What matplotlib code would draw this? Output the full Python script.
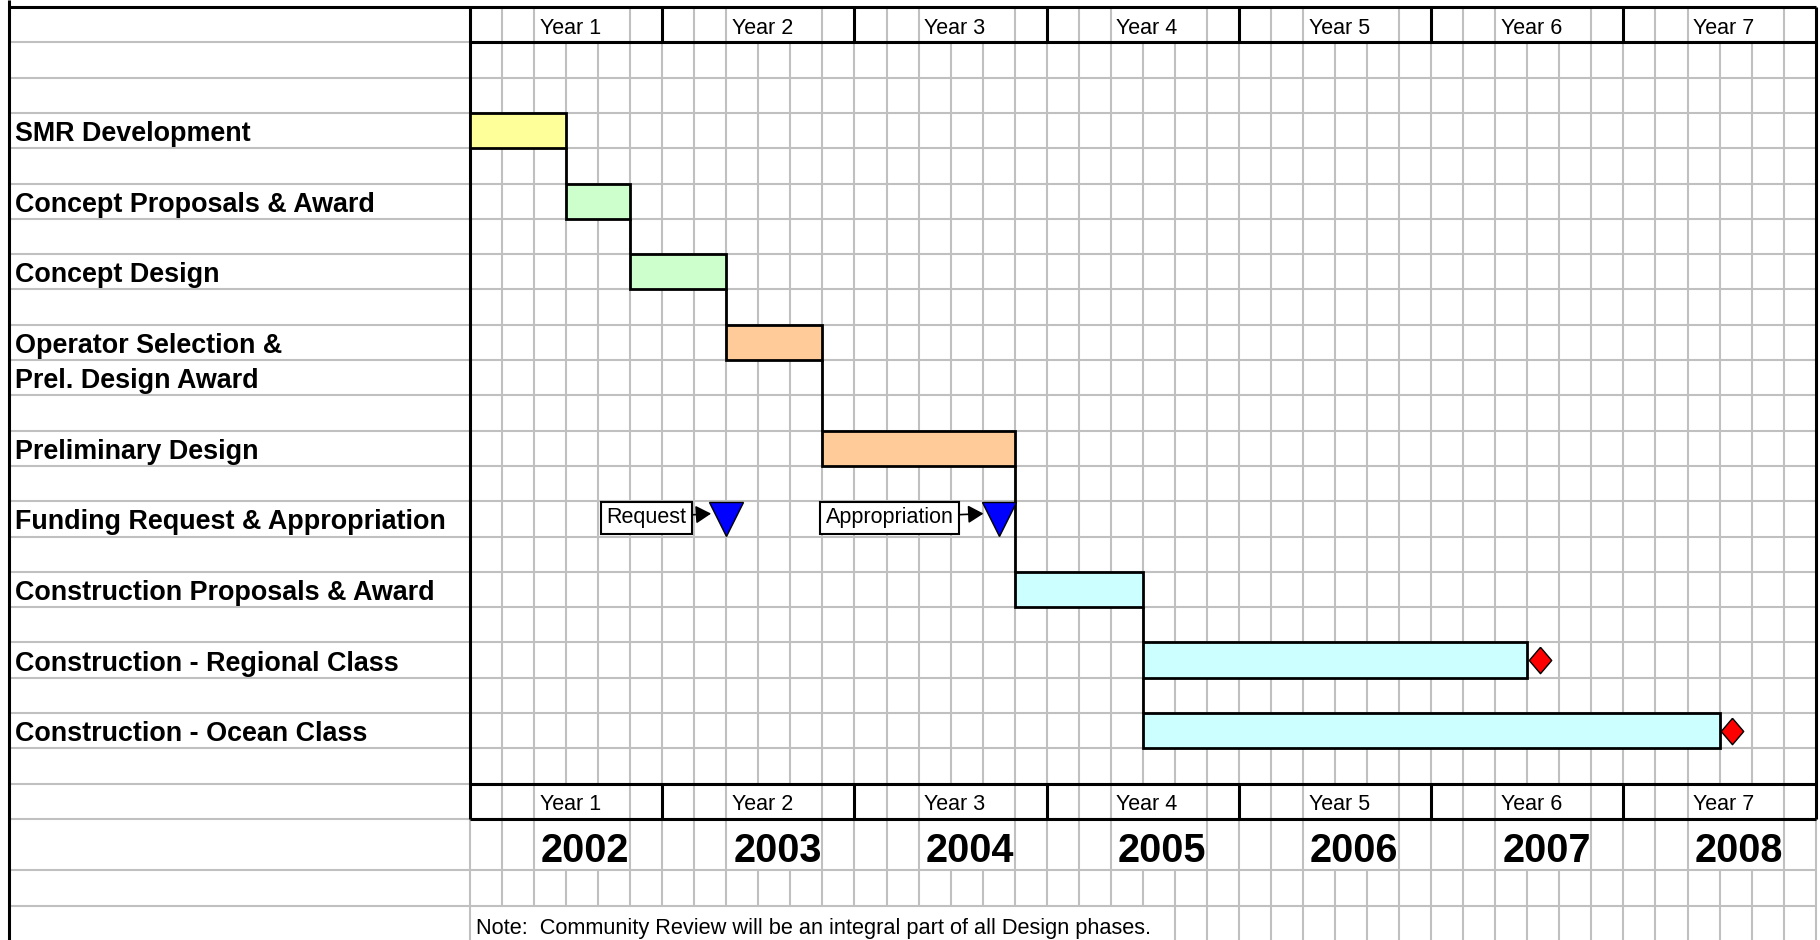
import matplotlib.pyplot as plt
import numpy as np

plt.rcParams['font.family'] = ['Liberation Sans', 'DejaVu Sans']

# task data (months from project start)
task_names = ["SMR Development", "Concept Proposals & Award", "Concept Design",
              "Operator Selection &", "Preliminary Design",
              "Construction Proposals & Award", "Construction - Regional Class",
              "Construction - Ocean Class"]
task_start = [0, 6, 10, 16, 22, 34, 42, 42]
task_end = [6, 10, 16, 22, 34, 42, 66, 78]
task_row = [3, 5, 7, 9, 12, 16, 18, 20]
task_color = ['#FFFF99', '#CCFFCC', '#CCFFCC', '#FFCC99', '#FFCC99',
              '#CCFFFF', '#CCFFFF', '#CCFFFF']

# extra label rows
extra_labels = ["Prel. Design Award", "Funding Request & Appropriation"]
extra_rows = [10, 14]

# dependency links (from task index -> to task index)
links = [(0, 1), (1, 2), (2, 3), (3, 4), (4, 5), (5, 6), (6, 7)]

# funding milestones
ms_labels = ["Request", "Appropriation"]
ms_month = [16, 33]
ms_text_x = [8.5, 22.2]
ms_row = 14

# completion diamonds on last two tasks
finish_tasks = [6, 7]

year_labels = ["Year 1", "Year 2", "Year 3", "Year 4", "Year 5", "Year 6", "Year 7"]
calendar_years = ["2002", "2003", "2004", "2005", "2006", "2007", "2008"]
note = "Note:  Community Review will be an integral part of all Design phases."

# layout
row_heights = [1] * 23 + [1.46, 1, 1]
rb = np.concatenate([[0], np.cumsum(row_heights)])
x_left_border = -28.76
x_end = 84
gray = '#C0C0C0'

fig = plt.figure(figsize=(18.2, 9.4), dpi=100)
ax = fig.add_axes([0, 0, 1, 1])
ax.set_xlim(-29.34, 84.27)
ax.set_ylim(26.43, -0.2)
ax.axis('off')

# horizontal grid
ax.hlines(rb[1:], x_left_border, x_end, color=gray, lw=1.5, zorder=1)
ax.hlines(0, x_left_border, x_end, color='k', lw=2.2, zorder=2)
ax.hlines([rb[1], rb[22], rb[23]], 0, x_end, color='k', lw=2.2, zorder=2)

# vertical grid
bottom = 26.5
for m in range(2, x_end, 2):
    for r in range(26):
        y0, y1 = rb[r], min(rb[r + 1], bottom)
        if r in (0, 22, 23) and m % 12 in (6, 8):
            continue
        if r == 25 and m <= 42:
            continue
        if r in (0, 22) and m % 12 == 0:
            ax.vlines(m, y0, y1, color='k', lw=2.2, zorder=2)
        else:
            ax.vlines(m, y0, y1, color=gray, lw=1.5, zorder=1)
for m in (0, x_end):
    ax.vlines(m, 0, rb[23], color='k', lw=2.2, zorder=2)
    ax.vlines(m, rb[23], bottom, color=gray, lw=1.5, zorder=1)
ax.vlines(x_left_border, -0.2, bottom, color='k', lw=2.2, zorder=2)

# bars
ax.barh([r + 0.5 for r in task_row], np.array(task_end) - np.array(task_start),
        left=task_start, height=1, color=task_color, edgecolor='k', lw=2, zorder=3)

# connectors
for a, b in links:
    ax.vlines(task_start[b], task_row[a] + 1, task_row[b], color='k', lw=2, zorder=3)

# labels
for name, r in zip(task_names + extra_labels, task_row + extra_rows):
    ax.text(-28.4, r + 0.6, name, fontsize=19.4, fontweight='bold', va='center', ha='left')

# funding milestones
for lab, m, tx in zip(ms_labels, ms_month, ms_text_x):
    ax.plot(m, ms_row + 0.5, marker='v', ms=24.5, mfc='#0000FF', mec='k', mew=1, zorder=5)
    ax.annotate(lab, xy=(m - 0.95, ms_row + 0.35), xytext=(tx, ms_row + 0.47),
                fontsize=15.5, ha='left', va='center', zorder=4,
                bbox=dict(boxstyle='square,pad=0.25', fc='w', ec='k', lw=1.5),
                arrowprops=dict(arrowstyle='-|>,head_length=0.6,head_width=0.35',
                                color='k', lw=1.2, shrinkA=0, shrinkB=0))

# completion diamonds
diamond = [(0, 1), (0.85, 0), (0, -1), (-0.85, 0), (0, 1)]
for t in finish_tasks:
    ax.plot(task_end[t] + 0.8, task_row[t] + 0.5, marker=diamond, ms=19,
            mfc='#FF0000', mec='k', mew=1, zorder=5)

# headers
for i, (yl, cy) in enumerate(zip(year_labels, calendar_years)):
    for r in (0, 22):
        ax.text(12 * i + 4.35, r + 0.6, yl, fontsize=15.5, va='center', ha='left')
    ax.text(12 * i + 4.43, 23.9, cy, fontsize=28.5, fontweight='bold', va='center', ha='left')

ax.text(0.37, 26.1, note, fontsize=15.7, va='center', ha='left')

fig.savefig('out.png', dpi=100)
